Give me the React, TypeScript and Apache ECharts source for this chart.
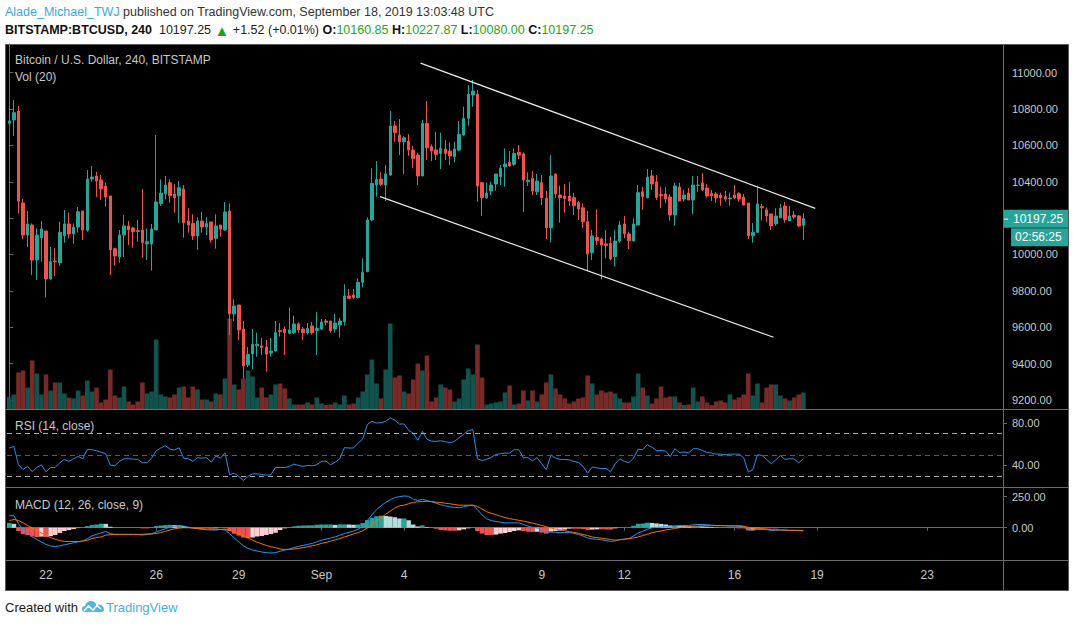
import React, { useEffect, useRef } from 'react';
import * as echarts from 'echarts';

// ---------- time slots (4h candles) ----------
const START_UTC = Date.UTC(2019, 7, 20, 16, 0, 0);
const SLOT_HOURS = 4;
const SLOT_COUNT = 217;

const tickDates = ['2019-08-22', '2019-08-26', '2019-08-29', '2019-09-01', '2019-09-04', '2019-09-09', '2019-09-12', '2019-09-16', '2019-09-19', '2019-09-23'];
const tickLabels = ['22', '26', '29', 'Sep', '4', '9', '12', '16', '19', '23'];

// ---------- OHLC ----------
const opens = [10722,10740,10789,10283,10107,10162,9970,10092,10129,9865,
9964,9955,10103,10168,10113,10151,10239,10133,10415,10432,
10410,10376,10322,10032,9988,10107,10157,10146,10131,10135,
10058,10058,10135,10280,10334,10395,10333,10323,10360,10184,
10171,10102,10184,10151,10179,10089,10162,10135,10239,9673,
9722,9590,9392,9453,9498,9497,9491,9458,9469,9581,
9590,9566,9570,9618,9590,9570,9607,9581,9590,9634,
9634,9590,9612,9631,9772,9777,9763,9847,9906,10190,
10382,10415,10382,10437,10707,10657,10620,10624,10575,10547,
10432,10721,10593,10575,10556,10580,10569,10538,10575,10657,
10749,10877,10882,10395,10312,10349,10388,10428,10483,10507,
10496,10562,10553,10400,10419,10345,10395,10309,10147,10443,
10327,10322,10322,10312,10285,10257,10180,10010,10094,10085,
10058,10061,9988,10074,10168,10113,10074,10162,10345,10312,
10432,10399,10331,10333,10316,10217,10371,10305,10338,10300,
10380,10393,10366,10336,10333,10327,10318,10307,10327,10334,
10316,10283,10103,10122,10263,10245,10223,10169,10202,10267,
10186,10217,10212,10160.85];

const highs = [10804,10850,10817,10305,10239,10171,10144,10184,10129,10041,
10034,10180,10245,10230,10171,10261,10239,10465,10487,10455,
10437,10395,10322,10038,10135,10217,10184,10153,10190,10360,
10144,10168,10657,10413,10432,10413,10387,10404,10382,10254,
10221,10204,10234,10204,10179,10221,10162,10289,10281,9753,
9722,9634,9491,9590,9570,9541,9530,9541,9634,9623,
9603,9708,9664,9627,9601,9623,9629,9684,9645,9645,
9634,9673,9651,9836,9810,9810,9869,9979,10204,10474,
10514,10452,10492,10789,10734,10745,10651,10662,10598,10560,
10740,10844,10606,10675,10670,10629,10617,10620,10734,10813,
10932,10960,10905,10395,10397,10400,10443,10492,10584,10569,
10584,10602,10562,10452,10459,10443,10437,10349,10547,10443,
10378,10388,10400,10338,10294,10281,10239,10135,10248,10092,
10135,10098,10135,10184,10212,10126,10199,10382,10373,10470,
10465,10437,10373,10371,10331,10395,10395,10355,10366,10432,
10432,10448,10388,10355,10345,10340,10349,10340,10382,10345,
10333,10283,10173,10378,10278,10259,10223,10254,10278,10289,
10267,10239,10217,10227.87];

const lows = [10712,10652,10226,10085,10041,9887,9860,9960,9763,9862,
9882,9937,10065,10089,10060,10120,10080,10125,10400,10316,
10300,10263,9887,9938,9955,9986,10052,10037,10070,9982,
9970,9911,10135,10267,10303,10285,10230,10175,10092,10120,
10080,10025,10120,10107,10065,10032,10098,10129,9557,9634,
9530,9319,9381,9370,9438,9447,9356,9438,9466,9548,
9447,9563,9563,9570,9530,9559,9559,9447,9585,9609,
9570,9570,9542,9609,9755,9755,9759,9819,9902,10184,
10318,10377,10294,10433,10620,10547,10443,10542,10474,10382,
10432,10520,10514,10520,10470,10520,10492,10507,10569,10653,
10708,10813,10290,10213,10305,10327,10351,10382,10373,10483,
10488,10525,10235,10377,10327,10327,10272,10085,10065,10312,
10175,10230,10268,10217,10190,10147,9909,9970,10052,9863,
9979,9968,9933,10065,10089,10030,10074,10162,10245,10309,
10355,10300,10254,10281,10186,10158,10294,10290,10300,10223,
10345,10351,10312,10294,10283,10268,10290,10268,10305,10290,
10272,10085,10065,10122,10186,10180,10135,10158,10199,10175,
10184,10195,10151,10080];

const closes = [10735,10780,10294,10107,10168,9970,10107,10140,9865,9960,
9961,10122,10168,10113,10151,10235,10135,10415,10426,10404,
10360,10316,10025,9992,10107,10157,10135,10125,10127,10065,
10070,10140,10289,10338,10382,10323,10312,10367,10175,10162,
10102,10184,10151,10171,10080,10157,10140,10234,9673,9717,
9585,9387,9451,9506,9506,9488,9453,9469,9570,9576,
9570,9585,9618,9585,9570,9594,9570,9594,9629,9627,
9581,9623,9634,9772,9759,9763,9847,9902,10190,10391,
10413,10386,10443,10707,10670,10620,10642,10575,10529,10432,
10721,10587,10569,10551,10584,10556,10542,10580,10661,10749,
10882,10899,10377,10312,10338,10382,10443,10474,10498,10487,
10556,10547,10410,10408,10349,10404,10312,10147,10432,10333,
10312,10307,10294,10268,10250,10180,10003,10102,10076,10052,
10049,9975,10074,10162,10114,10076,10168,10340,10318,10426,
10388,10314,10323,10305,10217,10377,10294,10327,10300,10382,
10382,10355,10322,10323,10311,10311,10305,10311,10311,10305,
10272,10103,10122,10278,10257,10212,10158,10212,10256,10193,
10212,10206,10157,10197.25];

const volumes = [1200,1450,3650,3850,2150,4850,3550,1450,3450,1850,
2650,2650,1550,1150,1050,1850,1350,2850,1750,2150,
650,950,3950,1350,1150,2250,750,450,750,2650,
1550,1750,6950,1450,1250,1150,1450,2150,2250,1150,
2250,1950,950,950,750,1550,1450,3050,9050,2450,
1950,3050,3850,3250,1150,2150,1150,1450,2450,2550,
2050,1050,450,450,450,650,450,1150,550,400,
450,650,450,1350,450,550,1150,1750,3450,4950,
2550,1050,3950,8550,3150,3350,1750,1550,2950,4550,
3850,5350,750,1150,2450,2150,1950,750,1050,2950,
4050,3450,6450,3150,450,550,650,750,1650,2350,
450,550,1850,850,1850,750,1450,2650,3450,2050,
1450,1050,550,750,1050,1150,3350,2550,1450,1850,
1650,1750,1550,1050,650,650,1250,3550,2150,1350,
550,1050,2250,1150,1250,1250,650,400,450,2150,
750,1250,650,400,750,850,650,1450,950,1150,
1450,3550,1350,2550,650,2150,2450,2450,1350,1050,
850,1150,1450,1650];

// ---------- RSI (14, close) ----------
const rsiValues = [56.4,57.9,40.5,36.0,38.9,33.8,37.9,40.5,33.8,37.9,
37.9,42.4,45.6,43.7,46.2,48.4,46.2,55.1,54.8,53.8,
52.5,51.0,40.2,39.5,43.7,46.2,46.2,45.9,45.6,42.4,
42.4,46.8,53.8,56.4,58.6,55.4,54.5,56.7,46.8,46.2,
43.7,47.2,46.8,47.2,43.0,48.7,46.8,51.9,31.0,32.5,
29.4,25.6,29.4,31.9,31.9,31.3,30.6,31.0,37.9,37.9,
37.9,38.9,41.1,39.9,38.9,39.9,39.5,40.5,43.7,44.0,
40.5,43.0,46.2,56.7,56.4,56.4,61.1,64.9,78.6,81.8,
80.2,80.5,81.8,84.9,82.7,79.2,79.2,73.2,70.6,63.7,
72.2,64.6,63.0,62.7,63.3,62.4,61.4,62.7,66.2,69.4,
72.9,73.8,46.2,44.6,45.6,47.5,50.3,51.0,51.6,51.6,
54.8,54.8,47.2,47.2,44.3,47.2,41.4,35.7,50.0,46.8,
45.6,45.6,45.2,43.7,42.7,38.9,32.5,38.3,37.6,37.0,
37.0,33.8,41.4,46.2,43.7,42.4,46.8,55.4,54.8,59.5,
57.3,54.1,54.1,53.5,48.4,55.7,52.2,52.5,51.9,55.7,
55.7,54.1,52.2,51.6,50.6,50.6,50.0,50.6,50.6,50.6,
47.2,33.8,35.7,50.0,49.4,45.6,41.4,45.2,49.4,45.6,
46.2,45.9,42.4,46.2];
const rsiLevels = [70, 50, 30];
const rsiTicks = [40, 80];

// ---------- MACD (12, 26, close, 9) ----------
const macdValues = [97,97,32,-13,-42,-74,-95,-113,-134,-147,
-150,-145,-137,-129,-121,-113,-108,-87,-66,-53,
-42,-29,-47,-55,-55,-55,-55,-55,-55,-58,
-55,-50,-34,-21,-8,5,13,18,13,5,
-3,-8,-13,-16,-18,-18,-13,-18,-47,-82,
-113,-145,-166,-179,-187,-195,-200,-203,-200,-189,
-179,-171,-160,-150,-142,-134,-126,-113,-100,-92,
-82,-74,-60,-47,-37,-26,-13,13,58,103,
145,176,203,224,242,250,255,252,229,218,
229,218,208,197,184,176,168,163,160,168,
176,181,145,103,71,58,50,45,39,39,
39,39,26,13,3,-3,-21,-39,-34,-37,
-39,-39,-39,-45,-53,-66,-82,-89,-92,-97,
-103,-110,-105,-95,-92,-87,-66,-42,-29,-13,
0,3,5,8,5,13,16,18,18,24,
26,26,24,21,18,18,16,13,13,11,
8,-18,-21,-13,-13,-16,-21,-21,-18,-21,
-21,-21,-24,-24];

const signalValues = [58,66,58,39,18,-3,-21,-42,-60,-79,
-92,-103,-110,-110,-110,-110,-108,-100,-87,-79,
-74,-60,-55,-53,-53,-53,-53,-53,-53,-53,
-50,-50,-47,-39,-29,-18,-8,-3,0,0,
-3,-5,-8,-11,-11,-13,-13,-13,-21,-34,
-50,-66,-82,-100,-116,-129,-142,-153,-160,-171,
-174,-174,-171,-166,-160,-153,-145,-137,-126,-118,
-108,-97,-87,-74,-63,-50,-39,-24,-3,24,
53,79,108,134,158,176,181,192,203,208,
210,213,210,205,203,197,192,187,181,181,
181,181,171,150,129,116,105,92,82,74,
66,60,53,45,37,29,18,8,-3,-11,
-16,-24,-32,-37,-45,-55,-63,-74,-79,-84,
-89,-95,-100,-97,-92,-87,-82,-74,-63,-53,
-39,-32,-26,-18,-13,-5,0,5,8,11,
13,16,16,16,16,16,16,16,16,16,
13,3,-5,-8,-8,-11,-16,-16,-18,-18,
-21,-21,-21,-24];
const macdTicks = [0, 250];

// ---------- drawn channel (slot index, price) ----------
const upperTrend = [[89.6, 11053], [175.6, 10254]];
const lowerTrend = [[80.8, 10318], [166.5, 9545]];

const priceTicks = [9200, 9400, 9600, 9800, 10000, 10200, 10400, 10600, 10800, 11000];

// ---------- texts ----------
const author = 'Alade_Michael_TWJ';
const publishedText = ' published on TradingView.com, September 18, 2019 13:03:48 UTC';
const symbolText = 'BITSTAMP:BTCUSD, 240';
const changeText = '+1.52 (+0.01%)';
const countdownText = '02:56:25';

const FONT = '"Liberation Sans", Arial, sans-serif';
const UP = '#26a69a';
const DOWN = '#ef5350';
const AXIS_GRAY = '#6b6b6b';
const LABEL_GRAY = '#c8c8c8';

const LOGO_D = 'M3 11 C1.2 11 0 9.6 0 8 C0 6.3 1.3 5 3 5 C3.6 2.1 6 0 9 0 C11.7 0 13.8 1.8 14.5 4.2 C15.5 3.5 16.6 3.3 17.7 3.6 C20.2 4.2 22 6.2 22 8.5 C22 9.9 20.9 11 19.5 11 Z';
echarts.graphic.registerShape('tvLogo', echarts.graphic.extendPath(LOGO_D, {}) as any);

function buildCategories() {
  const cats: string[] = [];
  for (let k = 0; k < SLOT_COUNT; k++) {
    const d = new Date(START_UTC + k * SLOT_HOURS * 3600000);
    cats.push(d.toISOString().slice(0, 13));
  }
  return cats;
}

function buildOption() {
  const categories = buildCategories();
  const tickMap = new Map<string, string>();
  tickDates.forEach((d, k) => tickMap.set(d + 'T00', tickLabels[k]));
  const last = closes.length - 1;
  // the last-price tag covers the nearest price label, as in the reference
  const priceLabelTicks = priceTicks.filter((t) => Math.abs(t - closes[last]) > 60);

  const candleData = opens.map((o, i) => [o, closes[i], lows[i], highs[i]]);
  const volData = volumes.map((v, i) => ({
    value: v,
    itemStyle: { color: closes[i] >= opens[i] ? '#13534d' : '#782a28' },
  }));
  const hist = macdValues.map((m, i) => m - signalValues[i]);
  const histData = hist.map((h, i) => {
    const prev = i > 0 ? hist[i - 1] : h;
    let color;
    if (h >= 0) color = h >= prev ? '#26a69a' : '#b2dfdb';
    else color = h > prev ? '#ffcdd2' : '#ef5350';
    return { value: h, itemStyle: { color } };
  });

  const grids = [
    { left: 7, right: 70, top: 44, height: 365 },
    { left: 7, right: 70, top: 410, height: 77 },
    { left: 7, right: 70, top: 488, height: 72 },
  ];

  const hiddenCat = (gi: number) => ({
    type: 'category', gridIndex: gi, data: categories, boundaryGap: true,
    axisLine: { show: false }, axisTick: { show: false }, axisLabel: { show: false }, splitLine: { show: false },
  });

  const yBase = (gi: number, min: number, max: number, ticks: number[], labelTicks: number[]) => ({
    type: 'value', gridIndex: gi, position: 'right', min, max,
    splitLine: { show: false },
    axisLine: { show: true, lineStyle: { color: AXIS_GRAY } },
    axisTick: { show: true, length: 4, lineStyle: { color: AXIS_GRAY }, customValues: ticks },
    axisLabel: {
      show: true, color: LABEL_GRAY, fontSize: 11, fontFamily: FONT, margin: 9,
      customValues: labelTicks, formatter: (v: number) => v.toFixed(2),
    },
  });

  const legendText = (id: string, x: number, y: number, text: string) => ({
    id, type: 'text', x, y, z: 20,
    style: { text, fill: LABEL_GRAY, font: `12px ${FONT}`, verticalAlign: 'middle' },
  });

  const graphic = [
    { id: 'bg', type: 'rect', z: -10, shape: { x: 5.5, y: 44.5, width: 1063, height: 546 }, style: { fill: '#000', stroke: '#5a5a5a', lineWidth: 1 } },
    { id: 'sep1', type: 'line', z: 10, shape: { x1: 6, y1: 409.5, x2: 1068, y2: 409.5 }, style: { stroke: AXIS_GRAY, lineWidth: 1 } },
    { id: 'sep2', type: 'line', z: 10, shape: { x1: 6, y1: 487.5, x2: 1068, y2: 487.5 }, style: { stroke: AXIS_GRAY, lineWidth: 1 } },
    { id: 'sep3', type: 'line', z: 10, shape: { x1: 6, y1: 560.5, x2: 1068, y2: 560.5 }, style: { stroke: AXIS_GRAY, lineWidth: 1 } },
    { id: 'vsep', type: 'line', z: 10, shape: { x1: 1003.5, y1: 45, x2: 1003.5, y2: 590 }, style: { stroke: AXIS_GRAY, lineWidth: 1 } },
    {
      id: 'hdr1', type: 'text', x: 5, y: 12,
      style: {
        text: `{a|${author}}{b|${publishedText}}`, verticalAlign: 'middle', font: `12.5px ${FONT}`,
        rich: { a: { fill: '#3ea6dc', fontSize: 12.5, fontFamily: FONT }, b: { fill: '#333333', fontSize: 12.5, fontFamily: FONT } },
      },
    },
    {
      id: 'hdr2', type: 'text', x: 5, y: 30,
      style: {
        text: `{s|${symbolText}}  {n|${closes[last].toFixed(2)}} {g|▲}{n| ${changeText}} {s|O:}{v|${opens[last].toFixed(2)}} {s|H:}{v|${highs[last].toFixed(2)}} {s|L:}{v|${lows[last].toFixed(2)}} {s|C:}{v|${closes[last].toFixed(2)}}`,
        verticalAlign: 'middle', font: `12.5px ${FONT}`,
        rich: {
          s: { fill: '#111111', fontWeight: 'bold', fontSize: 12.5, fontFamily: FONT },
          n: { fill: '#222222', fontSize: 12.5, fontFamily: FONT },
          g: { fill: '#1fa31f', fontSize: 15, fontFamily: FONT },
          v: { fill: '#22a722', fontSize: 12.5, fontFamily: FONT },
        },
      },
    },
    legendText('lg1', 15, 60, 'Bitcoin / U.S. Dollar, 240, BITSTAMP'),
    legendText('lg2', 15, 77, 'Vol (20)'),
    legendText('lg3', 15, 426, 'RSI (14, close)'),
    legendText('lg4', 15, 505, 'MACD (12, 26, close, 9)'),
    { id: 'ft1', type: 'text', x: 5, y: 607, style: { text: 'Created with', fill: '#1a1a1a', font: `13px ${FONT}`, verticalAlign: 'middle' } },
    { id: 'logo1', type: 'tvLogo', x: 82, y: 601, scaleX: 1, scaleY: 1, style: { fill: '#55b4e6' } },
    { id: 'logo2', type: 'polyline', shape: { points: [[84, 611], [88.5, 606], [93, 610], [97, 605.5], [101, 609]] }, style: { stroke: '#ffffff', lineWidth: 1.6, fill: null } },
    { id: 'ft2', type: 'text', x: 106, y: 607, style: { text: 'TradingView', fill: '#47aee4', font: `13px ${FONT}`, verticalAlign: 'middle' } },
  ];

  return {
    animation: false,
    backgroundColor: 'transparent',
    grid: grids,
    graphic: { elements: graphic },
    xAxis: [
      hiddenCat(0),
      hiddenCat(1),
      {
        type: 'category', gridIndex: 2, data: categories, boundaryGap: true,
        axisLine: { show: true, lineStyle: { color: AXIS_GRAY } },
        axisTick: { show: true, length: 3, alignWithLabel: true, lineStyle: { color: AXIS_GRAY }, interval: (_i: number, v: string) => tickMap.has(v) },
        axisLabel: {
          show: true, color: LABEL_GRAY, fontSize: 12, fontFamily: FONT, margin: 9,
          interval: (_i: number, v: string) => tickMap.has(v),
          formatter: (v: string) => tickMap.get(v) ?? '',
        },
        splitLine: { show: false },
      },
      { type: 'value', gridIndex: 0, min: -0.5, max: SLOT_COUNT - 0.5, show: false },
    ],
    yAxis: [
      yBase(0, 9150, 11158, priceTicks, priceLabelTicks),
      { type: 'value', gridIndex: 0, min: 0, max: 36500, show: false },
      yBase(1, 19.4, 92.5, rsiTicks, rsiTicks),
      yBase(2, -259, 319, macdTicks, macdTicks),
    ],
    series: [
      {
        type: 'bar', name: 'Vol', xAxisIndex: 0, yAxisIndex: 1, data: volData,
        barCategoryGap: '0%', z: 1,
      },
      {
        type: 'candlestick', name: 'BTCUSD', xAxisIndex: 0, yAxisIndex: 0, data: candleData, barWidth: 3, z: 3,
        itemStyle: { color: UP, color0: DOWN, borderColor: UP, borderColor0: DOWN, borderWidth: 1 },
      },
      {
        type: 'line', name: 'upper', xAxisIndex: 3, yAxisIndex: 0, data: upperTrend, symbol: 'none', z: 4,
        lineStyle: { color: '#e8e8e8', width: 1.2 },
      },
      {
        type: 'line', name: 'lower', xAxisIndex: 3, yAxisIndex: 0, data: lowerTrend, symbol: 'none', z: 4,
        lineStyle: { color: '#e8e8e8', width: 1.2 },
      },
      {
        type: 'line', name: 'RSI', xAxisIndex: 1, yAxisIndex: 2, data: rsiValues, symbol: 'none',
        lineStyle: { color: '#2a8fe8', width: 1 },
        markLine: {
          silent: true, symbol: 'none', label: { show: false },
          data: rsiLevels.map((lv) => ({
            yAxis: lv,
            lineStyle: { color: lv === 50 ? '#5a5a5a' : '#a8a8a8', type: [5, 4], width: 1 },
          })),
        },
      },
      {
        type: 'bar', name: 'Histogram', xAxisIndex: 2, yAxisIndex: 3, data: histData, barCategoryGap: '0%',
      },
      {
        type: 'line', name: 'MACD', xAxisIndex: 2, yAxisIndex: 3, data: macdValues, symbol: 'none', z: 4,
        lineStyle: { color: '#2196f3', width: 1 },
      },
      {
        type: 'line', name: 'Signal', xAxisIndex: 2, yAxisIndex: 3, data: signalValues, symbol: 'none', z: 4,
        lineStyle: { color: '#ff6d00', width: 1 },
      },
    ],
  };
}

function priceTag(py: number) {
  const last = closes.length - 1;
  return [
    { id: 'tag1', type: 'rect', z: 30, shape: { x: 1004, y: py - 9, width: 64, height: 18 }, style: { fill: UP } },
    { id: 'tagTick', type: 'line', z: 31, shape: { x1: 1004, y1: py + 0.5, x2: 1008, y2: py + 0.5 }, style: { stroke: '#ffffff', lineWidth: 1 } },
    { id: 'tagTxt1', type: 'text', z: 31, x: 1013, y: py, style: { text: closes[last].toFixed(2), fill: '#ffffff', font: `12px ${FONT}`, verticalAlign: 'middle' } },
    { id: 'tag2', type: 'rect', z: 30, shape: { x: 1011, y: py + 9.5, width: 57, height: 18 }, style: { fill: UP } },
    { id: 'tagTxt2', type: 'text', z: 31, x: 1015, y: py + 18.5, style: { text: countdownText, fill: '#ffffff', font: `12px ${FONT}`, verticalAlign: 'middle' } },
  ];
}

export default function App() {
  const ref = useRef<HTMLDivElement>(null);
  useEffect(() => {
    const el = ref.current;
    if (!el) return;
    const chart = echarts.init(el, undefined, { renderer: 'svg' });
    chart.setOption(buildOption() as any);
    const py = chart.convertToPixel({ yAxisIndex: 0 }, closes[closes.length - 1]) as number;
    chart.setOption({ graphic: { elements: priceTag(py) } } as any);
    return () => chart.dispose();
  }, []);
  return (
    <div
      ref={ref}
      style={{ position: 'fixed', left: 0, top: 0, width: 1073, height: 625, background: '#ffffff' }}
    />
  );
}
